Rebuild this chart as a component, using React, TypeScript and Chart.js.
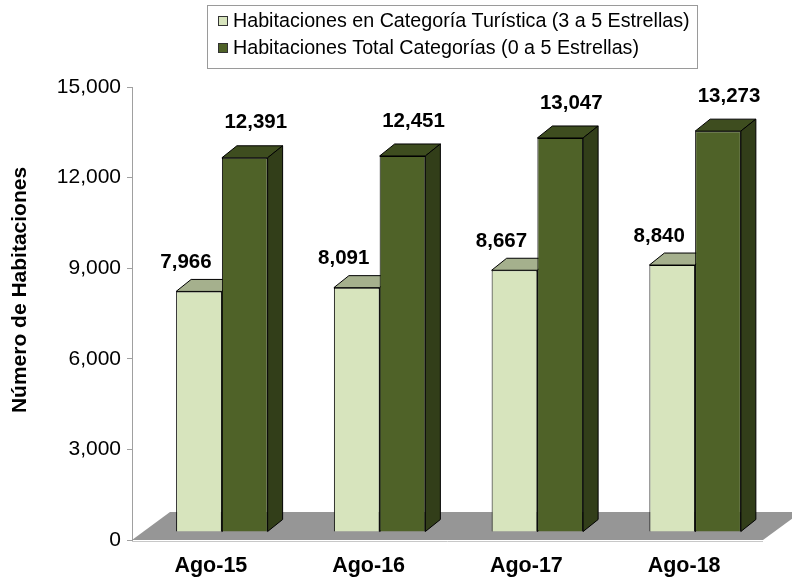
import React, { useEffect, useRef } from 'react';
import { Chart, registerables } from 'chart.js';

Chart.register(...registerables);

const categories = ['Ago-15', 'Ago-16', 'Ago-17', 'Ago-18'];
const turisticaLabel = 'Habitaciones en Categoría Turística (3 a 5 Estrellas)';
const totalLabel = 'Habitaciones Total Categorías (0 a 5 Estrellas)';
const turisticaValues = [7966, 8091, 8667, 8840];
const totalValues = [12391, 12451, 13047, 13273];
const yMin = 0;
const yMax = 15000;
const yStep = 3000;
const yTitle = 'Número de Habitaciones';

const FONT = '"Liberation Sans", Arial, Helvetica, sans-serif';
const SHIFT_X = 11;
const SHIFT_Y = -8;
const BAR_DX = 15;
const BAR_DY = -12;
const FLOOR_DX = 38;
const FLOOR_DY = -28;

const faceColors = [
  { front: '#D7E4BD', top: '#A5B08D', side: '#8E9A78' },
  { front: '#4F6228', top: '#3E4D1F', side: '#323E19' },
];
const labelOffsets = [
  { dx: -13, dy: -29 },
  { dx: 11, dy: -35 },
];

const fmt = (v: number) => v.toLocaleString('en-US');

const threeD = {
  id: 'threeD',
  beforeDatasetsDraw(chart: any) {
    const { ctx, chartArea } = chart;
    const { left, right, bottom } = chartArea;
    ctx.save();
    ctx.fillStyle = '#969696';
    ctx.beginPath();
    ctx.moveTo(left, bottom);
    ctx.lineTo(right, bottom);
    ctx.lineTo(right + FLOOR_DX, bottom + FLOOR_DY);
    ctx.lineTo(left + FLOOR_DX, bottom + FLOOR_DY);
    ctx.closePath();
    ctx.fill();
    ctx.strokeStyle = '#C8C8C8';
    ctx.lineWidth = 1;
    ctx.beginPath();
    ctx.moveTo(left, bottom + 1.5);
    ctx.lineTo(right, bottom + 1.5);
    ctx.stroke();
    ctx.restore();
  },
  beforeDatasetDraw() {
    return false;
  },
  afterDatasetsDraw(chart: any) {
    const ctx = chart.ctx;
    const n = chart.data.labels.length;
    const nd = chart.data.datasets.length;
    ctx.save();
    ctx.translate(SHIFT_X, SHIFT_Y);
    for (let i = 0; i < n; i++) {
      for (let d = 0; d < nd; d++) {
        const el = chart.getDatasetMeta(d).data[i];
        const { x, y, base, width } = el.getProps(['x', 'y', 'base', 'width'], true);
        const x0 = x - width / 2;
        const x1 = x + width / 2;
        el.draw(ctx);
        ctx.lineWidth = 1;
        ctx.strokeStyle = '#000';
        ctx.lineJoin = 'round';
        // top face
        ctx.beginPath();
        ctx.moveTo(x0, y);
        ctx.lineTo(x0 + BAR_DX, y + BAR_DY);
        ctx.lineTo(x1 + BAR_DX, y + BAR_DY);
        ctx.lineTo(x1, y);
        ctx.closePath();
        ctx.fillStyle = faceColors[d].top;
        ctx.fill();
        ctx.stroke();
        // side face
        ctx.beginPath();
        ctx.moveTo(x1, y);
        ctx.lineTo(x1 + BAR_DX, y + BAR_DY);
        ctx.lineTo(x1 + BAR_DX, base + BAR_DY);
        ctx.lineTo(x1, base);
        ctx.closePath();
        ctx.fillStyle = faceColors[d].side;
        ctx.fill();
        ctx.stroke();
      }
    }
    ctx.restore();

    // value labels
    ctx.save();
    ctx.font = `bold 20.5px ${FONT}`;
    ctx.fillStyle = '#000';
    ctx.textAlign = 'center';
    ctx.textBaseline = 'middle';
    for (let d = 0; d < nd; d++) {
      const meta = chart.getDatasetMeta(d);
      const vals = chart.data.datasets[d].data;
      meta.data.forEach((el: any, i: number) => {
        const { x, y } = el.getProps(['x', 'y'], true);
        ctx.fillText(fmt(vals[i]), x + SHIFT_X + labelOffsets[d].dx, y + SHIFT_Y + labelOffsets[d].dy);
      });
    }
    ctx.restore();
  },
  afterDraw(chart: any) {
    const ctx = chart.ctx;
    // y axis title
    ctx.save();
    ctx.translate(20, 290);
    ctx.rotate(-Math.PI / 2);
    ctx.font = `bold 21px ${FONT}`;
    ctx.fillStyle = '#000';
    ctx.textAlign = 'center';
    ctx.textBaseline = 'middle';
    ctx.fillText(yTitle, 0, 0);
    ctx.restore();

    // legend
    ctx.save();
    ctx.fillStyle = '#fff';
    ctx.fillRect(207.5, 5.5, 490, 63);
    ctx.strokeStyle = '#9A9A9A';
    ctx.lineWidth = 1;
    ctx.strokeRect(207.5, 5.5, 490, 63);
    ctx.font = `19.7px ${FONT}`;
    ctx.textAlign = 'left';
    ctx.textBaseline = 'middle';
    const rows = [22, 49];
    chart.data.datasets.forEach((ds: any, k: number) => {
      const cy = rows[k];
      ctx.fillStyle = ds.backgroundColor;
      ctx.fillRect(218.5, cy - 5.5, 9, 9);
      ctx.strokeStyle = '#333';
      ctx.strokeRect(218.5, cy - 5.5, 9, 9);
      ctx.fillStyle = '#000';
      ctx.fillText(ds.label, 233, cy);
    });
    ctx.restore();
  },
};

export default function App() {
  const ref = useRef<HTMLCanvasElement | null>(null);
  useEffect(() => {
    if (!ref.current) return;
    const chart = new Chart(ref.current, {
      type: 'bar',
      data: {
        labels: categories,
        datasets: [
          {
            label: turisticaLabel,
            data: turisticaValues,
            backgroundColor: faceColors[0].front,
            borderColor: '#000',
            borderWidth: 1,
            categoryPercentage: 0.58,
            barPercentage: 1,
          },
          {
            label: totalLabel,
            data: totalValues,
            backgroundColor: faceColors[1].front,
            borderColor: '#000',
            borderWidth: 1,
            categoryPercentage: 0.58,
            barPercentage: 1,
          },
        ],
      },
      options: {
        responsive: false,
        animation: false,
        devicePixelRatio: 1,
        layout: { padding: { top: 87, right: 29, left: 0, bottom: 0 } },
        plugins: {
          legend: { display: false },
          title: { display: false },
          tooltip: { enabled: false },
        },
        scales: {
          x: {
            grid: { display: false, drawTicks: false },
            border: { display: false },
            ticks: {
              font: { family: FONT, size: 21.5, weight: 'bold' },
              color: '#000',
              padding: 13,
            },
            afterFit(scale: any) {
              scale.height = 37;
            },
          },
          y: {
            min: yMin,
            max: yMax,
            grid: { display: true, drawOnChartArea: false, drawTicks: true, tickLength: 5, color: '#A0A0A0' },
            border: { display: true, color: '#A0A0A0' },
            ticks: {
              stepSize: yStep,
              font: { family: FONT, size: 21 },
              color: '#000',
              padding: 6,
              callback: (v: any) => fmt(Number(v)),
            },
            afterFit(scale: any) {
              scale.width = 132;
            },
          },
        },
      },
      plugins: [threeD],
    } as any);
    return () => chart.destroy();
  }, []);
  return (
    <div style={{ position: 'absolute', left: 0, top: 0, width: 792, height: 577, background: '#fff' }}>
      <canvas ref={ref} width={792} height={577} style={{ display: 'block' }} />
    </div>
  );
}
